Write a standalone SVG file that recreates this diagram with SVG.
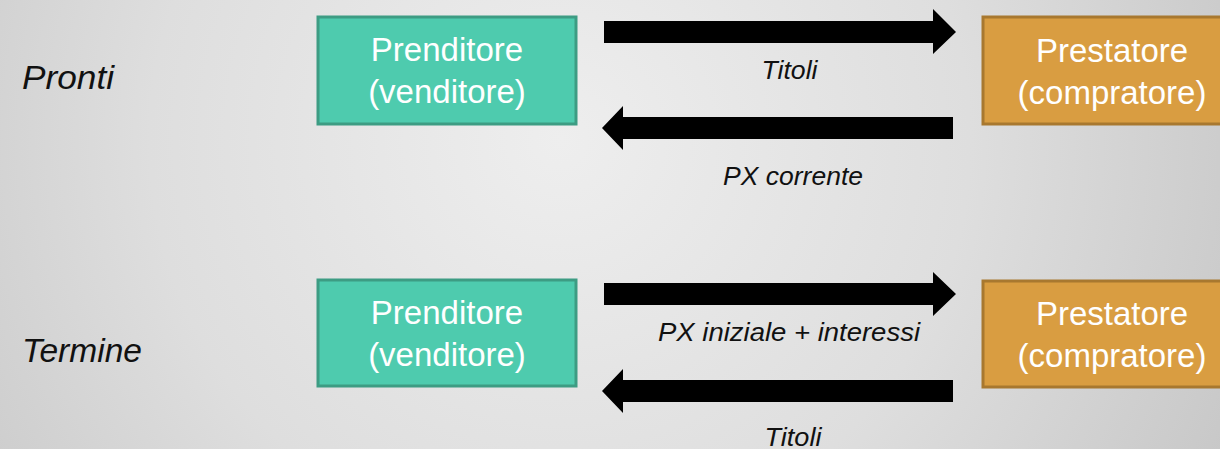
<svg xmlns="http://www.w3.org/2000/svg" width="1220" height="449" viewBox="0 0 1220 449">
<defs>
<radialGradient id="bg" cx="560" cy="140" r="820" gradientUnits="userSpaceOnUse">
<stop offset="0" stop-color="#eeeeee"/>
<stop offset="0.5" stop-color="#dedede"/>
<stop offset="1" stop-color="#c2c2c2"/>
</radialGradient>
<style>
.green{fill:#4ecbae;stroke:#3d9c83;stroke-width:3}
.orange{fill:#d99d41;stroke:#a8782f;stroke-width:3}
.box{font-family:"Liberation Sans",Arial,sans-serif;font-size:33px;fill:#ffffff;text-anchor:middle}
.lbl{font-family:"Liberation Sans",Arial,sans-serif;font-style:italic;font-size:25px;fill:#111111;text-anchor:middle}
.side{font-family:"Liberation Sans",Arial,sans-serif;font-style:italic;font-size:33px;fill:#111111}
.arrow{fill:#000000}
</style>
</defs>
<rect x="0" y="0" width="1220" height="449" fill="url(#bg)"/>
<text class="side" x="22" y="89" textLength="92" lengthAdjust="spacingAndGlyphs">Pronti</text>
<text class="side" x="22" y="362" textLength="120" lengthAdjust="spacingAndGlyphs">Termine</text>
<g id="prenditore-pronti">
<rect class="green" x="318" y="17" width="258" height="107"/>
<text class="box" x="447" y="61">Prenditore</text>
<text class="box" x="447" y="103">(venditore)</text>
</g>
<g id="prestatore-pronti">
<rect class="orange" x="983" y="17" width="258" height="107"/>
<text class="box" x="1112" y="62">Prestatore</text>
<text class="box" x="1112" y="104">(compratore)</text>
</g>
<g id="prenditore-termine">
<rect class="green" x="318" y="280" width="258" height="106"/>
<text class="box" x="447" y="324">Prenditore</text>
<text class="box" x="447" y="366">(venditore)</text>
</g>
<g id="prestatore-termine">
<rect class="orange" x="983" y="281" width="258" height="106"/>
<text class="box" x="1112" y="325">Prestatore</text>
<text class="box" x="1112" y="367">(compratore)</text>
</g>
<g id="connectors">
<polygon class="arrow" points="604,21 933,21 933,9 956,32 933,54 933,43 604,43"/>
<polygon class="arrow" points="953,117 623,117 623,106 602,128 623,150 623,139 953,139"/>
<polygon class="arrow" points="604,283 933,283 933,272 956,294 933,316 933,305 604,305"/>
<polygon class="arrow" points="953,380 623,380 623,369 602,391 623,413 623,402 953,402"/>
<text class="lbl" x="789.5" y="79" textLength="56" lengthAdjust="spacingAndGlyphs">Titoli</text>
<text class="lbl" x="793" y="185" textLength="140" lengthAdjust="spacingAndGlyphs">PX corrente</text>
<text class="lbl" x="789" y="341" textLength="262" lengthAdjust="spacingAndGlyphs">PX iniziale + interessi</text>
<text class="lbl" x="793" y="446" textLength="57" lengthAdjust="spacingAndGlyphs">Titoli</text>
</g>
</svg>
